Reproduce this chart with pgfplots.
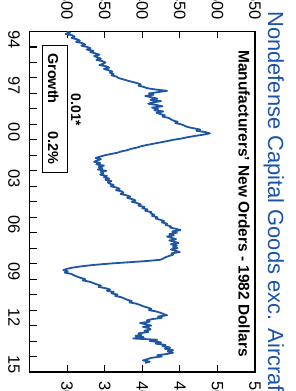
\documentclass[border=0pt]{standalone}
\usepackage{pgfplots}
\pgfplotsset{compat=1.18}
\usepackage{fontspec}
\setmainfont{Liberation Sans}
\definecolor{lineblue}{RGB}{30,85,165}
\definecolor{titleblue}{RGB}{25,82,170}
\begin{document}
\begin{tikzpicture}
\begin{axis}[
  at={(29.5bp,19bp)}, anchor=south west,
  scale only axis, width=225.5bp, height=340.5bp,
  xmin=250, xmax=550, ymin=1994, ymax=2016,
  y dir=reverse,
  xtick={300,350,400,450,500,550},
  xticklabel pos=top,
  xticklabels={300,350,400,450,500,550},
  ytick={1994,1995,...,2016},
  ytick pos=left,
  y tick label as interval,
  yticklabels={94,{},{},97,{},{},00,{},{},03,{},{},06,{},{},09,{},{},12,{},{},15,{}},
  major tick length=7bp,
  tick style={black, line width=1.1bp},
  axis line style={black, line width=1.8bp},
  /pgf/number format/assume math mode=true,
  tick label style={font=\fontsize{16.5}{18}\selectfont},
  xticklabel style={rotate=-90, anchor=east, inner xsep=11.5bp},
  yticklabel style={rotate=-90, anchor=north, inner ysep=9.5bp},
  clip=true,
]
\addplot[lineblue, line width=1.8bp, line join=round] table[x index=0, y expr=1994+\coordindex/12] {
v
300
304
298
307
310
306
313
317
312
320
324
319
327
331
326
335
331
338
343
336
340
345
339
347
351
348
343
352
356
349
355
360
357
362
359
366
368
374
380
386
393
398
395
402
407
418
433
421
409
415
404
412
420
411
425
414
408
419
427
413
421
416
428
419
424
430
427
435
438
441
447
444
452
456
460
468
477
472
484
490
481
470
460
452
441
433
424
415
406
398
393
385
380
372
367
358
350
344
338
345
340
336
344
339
349
342
347
341
352
345
348
344
353
349
356
351
359
354
357
362
358
366
370
365
373
375
371
379
384
380
387
391
386
393
398
395
403
400
407
404
412
411
416
413
420
418
424
429
426
433
431
438
437
445
451
440
446
436
442
433
439
445
436
443
448
438
446
441
447
438
444
450
439
441
436
431
428
424
405
380
355
335
320
308
300
295
301
297
306
309
313
318
324
321
330
335
339
345
342
351
357
353
362
359
367
364
372
376
380
386
383
392
397
401
407
412
409
418
424
428
433
421
426
413
406
410
397
405
412
401
409
411
403
408
395
399
391
402
388
420
410
425
418
431
427
437
430
441
434
441
433
420
426
412
407
401
410
404
};
\end{axis}
\begin{axis}[
  at={(29.5bp,19bp)}, anchor=south west,
  scale only axis, width=225.5bp, height=340.5bp,
  xmin=25, xmax=55, ymin=0, ymax=1,
  xtick={30,35,40,45,50,55},
  xticklabel pos=bottom,
  xticklabels={30,35,40,45,50,55},
  ytick=\empty,
  axis line style={draw=none},
  xtick style={draw=none},
  /pgf/number format/assume math mode=true,
  tick label style={font=\fontsize{16.5}{18}\selectfont},
  xticklabel style={rotate=-90, anchor=west, inner xsep=9bp},
]
\end{axis}
% title and annotations (rotated like the reference)
\node[rotate=-90, anchor=base west, text=titleblue, font=\fontsize{22}{24}\selectfont, inner sep=0pt] at (268bp,380bp) {Nondefense Capital Goods exc. Aircraft};
\node[rotate=-90, anchor=base, font=\bfseries\fontsize{15.5}{17}\selectfont, inner sep=0pt] at (238.5bp,187.5bp) {Manufacturers' New Orders - 1982 Dollars};
\node[rotate=-90, anchor=center, font=\bfseries\fontsize{14}{16}\selectfont, inner sep=0pt] at (76bp,281bp) {0.01*};
\draw[black, line width=0.9bp] (42bp,219bp) rectangle (67bp,346bp);
\node[rotate=-90, anchor=base west, font=\bfseries\fontsize{14.5}{16}\selectfont, inner sep=0pt] at (48bp,338bp) {Growth};
\node[rotate=-90, anchor=base east, font=\bfseries\fontsize{14.5}{16}\selectfont, inner sep=0pt] at (48bp,226bp) {0.2\%};
\pgfresetboundingbox
\path[use as bounding box] (0,0) rectangle (296bp,391bp);
\end{tikzpicture}
\end{document}
